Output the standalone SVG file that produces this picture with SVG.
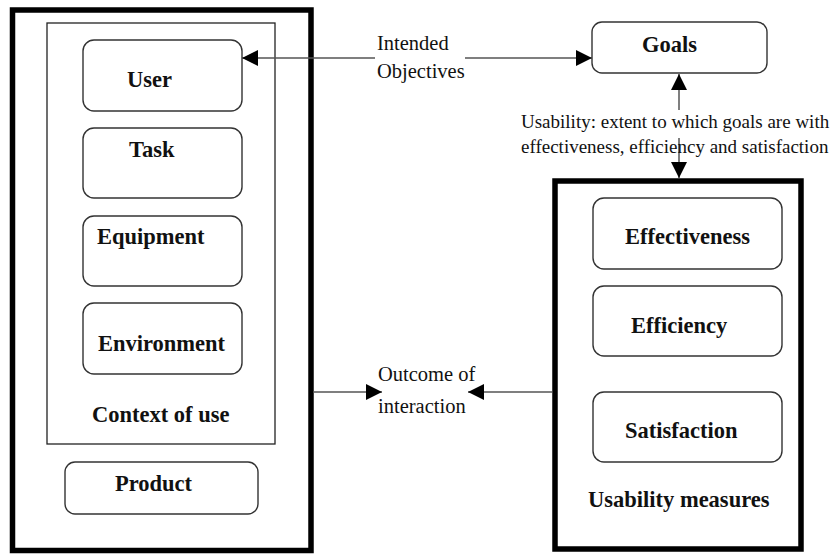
<svg xmlns="http://www.w3.org/2000/svg" width="834" height="554" viewBox="0 0 834 554">
  <defs>
    <marker id="arrow" viewBox="0 0 16 16" refX="16" refY="8" markerWidth="16" markerHeight="16" markerUnits="userSpaceOnUse" orient="auto-start-reverse">
      <path d="M0,0 L16,8 L0,16 Z" fill="#000"/>
    </marker>
  </defs>
  <style>
    .frame { fill: #fff; stroke: #000; stroke-width: 5.5; }
    .panel { fill: none; stroke: #222; stroke-width: 1.3; }
    .node { fill: #fff; stroke: #333; stroke-width: 1.4; }
    .bold { font-family: "Liberation Serif", "Times New Roman", serif; font-weight: bold; font-size: 22.5px; fill: #111; }
    .label { font-family: "Liberation Serif", "Times New Roman", serif; font-size: 20.5px; fill: #111; }
    .small { font-family: "Liberation Serif", "Times New Roman", serif; font-size: 19px; fill: #111; }
    .link { fill: none; stroke: #555; stroke-width: 1.5; }
  </style>
  <rect width="834" height="554" fill="#fff"/>

  <!-- product / context container -->
  <g id="product-frame">
    <rect class="frame" x="12.5" y="10" width="298.5" height="540.5"/>
  </g>
  <g id="context-of-use">
    <rect class="panel" x="47" y="23" width="228" height="421"/>
    <text class="bold" x="92" y="422">Context of use</text>
  </g>
  <g id="user">
    <rect class="node" x="83" y="40" width="159" height="71" rx="11"/>
    <text class="bold" x="127" y="87">User</text>
  </g>
  <g id="task">
    <rect class="node" x="83" y="128" width="159" height="70" rx="11"/>
    <text class="bold" x="129" y="157">Task</text>
  </g>
  <g id="equipment">
    <rect class="node" x="83" y="216" width="159" height="70" rx="11"/>
    <text class="bold" x="97" y="244">Equipment</text>
  </g>
  <g id="environment">
    <rect class="node" x="83" y="303" width="159" height="71" rx="11"/>
    <text class="bold" x="98" y="351">Environment</text>
  </g>
  <g id="product">
    <rect class="node" x="65" y="462" width="193" height="52" rx="10"/>
    <text class="bold" x="115" y="491">Product</text>
  </g>

  <!-- goals -->
  <g id="goals">
    <rect class="node" x="592" y="22" width="175" height="51" rx="10"/>
    <text class="bold" x="642" y="52">Goals</text>
  </g>

  <!-- usability measures container -->
  <g id="usability-measures">
    <rect class="frame" x="555" y="181" width="246" height="368" stroke-width="6"/>
    <text class="bold" x="588" y="507">Usability measures</text>
  </g>
  <g id="effectiveness">
    <rect class="node" x="593" y="198" width="189" height="71" rx="11"/>
    <text class="bold" x="625" y="244">Effectiveness</text>
  </g>
  <g id="efficiency">
    <rect class="node" x="593" y="286" width="189" height="70" rx="11"/>
    <text class="bold" x="631" y="333">Efficiency</text>
  </g>
  <g id="satisfaction">
    <rect class="node" x="593" y="392" width="189" height="70" rx="11"/>
    <text class="bold" x="625" y="438">Satisfaction</text>
  </g>

  <!-- connectors -->
  <g id="connectors">
    <line class="link" x1="375" y1="58" x2="242" y2="58" marker-end="url(#arrow)"/>
    <line class="link" x1="465" y1="58" x2="592" y2="58" marker-end="url(#arrow)"/>
    <line class="link" x1="679" y1="110" x2="679" y2="74" marker-end="url(#arrow)"/>
    <line class="link" x1="679" y1="138" x2="679" y2="178" marker-end="url(#arrow)"/>
    <line class="link" x1="313" y1="392" x2="382" y2="392" marker-end="url(#arrow)"/>
    <line class="link" x1="552" y1="392" x2="468" y2="392" marker-end="url(#arrow)"/>
  </g>

  <!-- connector labels -->
  <g id="labels">
    <text class="label" x="377" y="50">Intended</text>
    <text class="label" x="377" y="78">Objectives</text>
    <text class="small" x="521" y="128">Usability: extent to which goals are with</text>
    <text class="small" x="521" y="153">effectiveness, efficiency and satisfaction</text>
    <text class="label" x="378" y="381">Outcome of</text>
    <text class="label" x="378" y="413">interaction</text>
  </g>
</svg>
